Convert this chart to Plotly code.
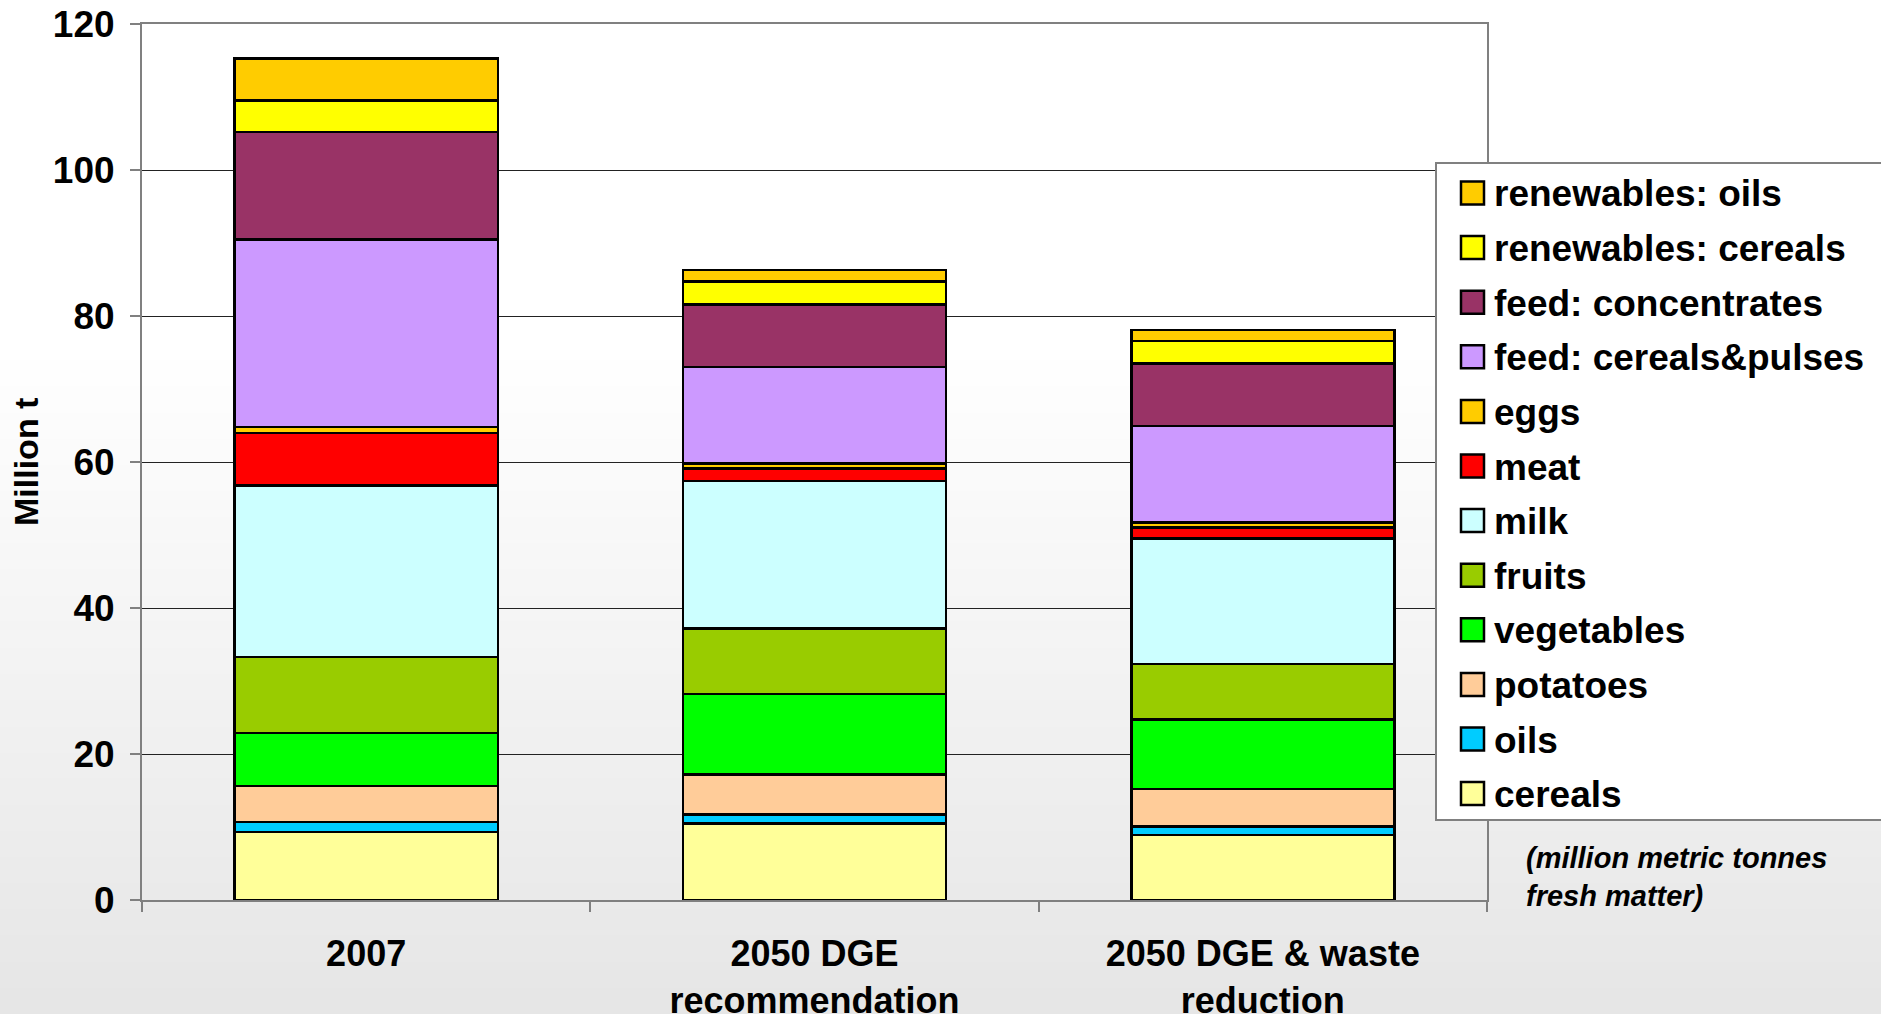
import plotly.graph_objects as go

# Scenario categories (x axis)
categories = ["2007", "2050 DGE<br>recommendation", "2050 DGE & waste<br>reduction"]

# Stack components, bottom to top (million t fresh matter)
cereals = [9.3, 10.5, 8.9]
oils = [1.4, 1.2, 1.2]
potatoes = [4.9, 5.5, 5.1]
vegetables = [7.3, 11.0, 9.5]
fruits = [10.4, 9.0, 7.6]
milk = [23.5, 20.2, 17.2]
meat = [7.2, 1.7, 1.5]
eggs = [0.8, 0.7, 0.7]
feed_cereals_pulses = [25.7, 13.2, 13.2]
feed_concentrates = [14.7, 8.6, 8.6]
renewables_cereals = [4.3, 3.1, 3.1]
renewables_oils = [5.8, 1.6, 1.5]

series_names = ["cereals", "oils", "potatoes", "vegetables", "fruits", "milk", "meat",
                "eggs", "feed: cereals&pulses", "feed: concentrates",
                "renewables: cereals", "renewables: oils"]
series_values = [cereals, oils, potatoes, vegetables, fruits, milk, meat, eggs,
                 feed_cereals_pulses, feed_concentrates, renewables_cereals, renewables_oils]
series_colors = ["#FFFF99", "#00CCFF", "#FFCC99", "#00FF00", "#99CC00", "#CCFFFF",
                 "#FF0000", "#FFCC00", "#CC99FF", "#993366", "#FFFF00", "#FFCC00"]

y_ticks = [0, 20, 40, 60, 80, 100, 120]

W, H = 1881, 1014
L, R, T, B = 142, 1487, 24, 900
FONT = "Liberation Sans, Arial, sans-serif"


def px_x(x):
    return (x - L) / (R - L)


def px_y(y):
    return (B - y) / (B - T)


fig = go.Figure()
for name, vals, color in zip(series_names, series_values, series_colors):
    fig.add_trace(go.Bar(
        x=categories, y=vals, name=name,
        marker=dict(color=color, line=dict(color="#000000", width=2.5)),
        showlegend=False,
    ))

shapes = []
# vertical background gradient: white at the top fading to light grey
top_white = 360
g_top, g_bot = 255, 230
n_bands = g_top - g_bot
band_h = (H - top_white) / n_bands
shapes.append(dict(type="rect", xref="paper", yref="paper", layer="below",
                   x0=px_x(-5), x1=px_x(W + 5), y0=px_y(-5), y1=px_y(top_white + 1),
                   fillcolor="#ffffff", line=dict(width=0)))
for i in range(n_bands):
    y0 = top_white + i * band_h
    g = int(round(g_top - (i + 1)))
    y1 = y0 + band_h + 1 if i < n_bands - 1 else H + 5
    shapes.append(dict(type="rect", xref="paper", yref="paper", layer="below",
                       x0=px_x(-5), x1=px_x(W + 5), y0=px_y(y0), y1=px_y(y1),
                       fillcolor=f"rgb({g},{g},{g})", line=dict(width=0)))

# legend box
shapes.append(dict(type="rect", xref="paper", yref="paper", layer="above",
                   x0=px_x(1436), x1=px_x(1900), y0=px_y(163), y1=px_y(820),
                   fillcolor="#ffffff", line=dict(color="#808080", width=2)))

annotations = []
item_top = 193
item_step = 54.6
for k, idx in enumerate(range(len(series_names) - 1, -1, -1)):
    cy = item_top + k * item_step
    shapes.append(dict(type="rect", xref="paper", yref="paper", layer="above",
                       x0=px_x(1461), x1=px_x(1484), y0=px_y(cy - 11.5), y1=px_y(cy + 11.5),
                       fillcolor=series_colors[idx], line=dict(color="#000000", width=2.5)))
    annotations.append(dict(xref="paper", yref="paper", x=px_x(1492), y=px_y(cy + 1),
                            xanchor="left", yanchor="middle", showarrow=False,
                            text="<b>" + series_names[idx] + "</b>",
                            font=dict(family=FONT, size=37, color="#000000")))

# y axis title
annotations.append(dict(xref="paper", yref="paper", x=px_x(26), y=0.5,
                        xanchor="center", yanchor="middle", showarrow=False, textangle=-90,
                        text="<b>Million t</b>", font=dict(family=FONT, size=34, color="#000000")))
# unit note
annotations.append(dict(xref="paper", yref="paper", x=px_x(1524), y=px_y(877),
                        xanchor="left", yanchor="middle", showarrow=False, align="left",
                        text="<b><i>(million metric tonnes<br>fresh matter)</i></b>",
                        font=dict(family=FONT, size=29, color="#000000")))

fig.update_layout(
    width=W, height=H,
    margin=dict(l=L, r=W - R, t=T, b=H - B),
    barmode="stack", bargap=0.413,
    paper_bgcolor="#ffffff", plot_bgcolor="rgba(0,0,0,0)",
    showlegend=False,
    shapes=shapes, annotations=annotations,
    xaxis=dict(
        automargin=False,
        tickson="boundaries", ticks="outside", ticklen=10, tickcolor="#808080", tickwidth=2,
        showline=True, linecolor="#808080", linewidth=2, mirror=True,
        showgrid=False, tickfont=dict(family=FONT, size=36, color="#000000", weight="bold"),
        ticklabelstandoff=21,
    ),
    yaxis=dict(
        automargin=False,
        range=[0, 120], tickvals=y_ticks, ticks="outside", ticklen=10, tickcolor="#808080", tickwidth=2,
        showline=True, linecolor="#808080", linewidth=2, mirror=True,
        showgrid=True, gridcolor="#222222", gridwidth=1, zeroline=False,
        tickfont=dict(family=FONT, size=37, color="#000000", weight="bold"),
        ticklabelstandoff=8,
    ),
)

fig.write_html("out.html")
